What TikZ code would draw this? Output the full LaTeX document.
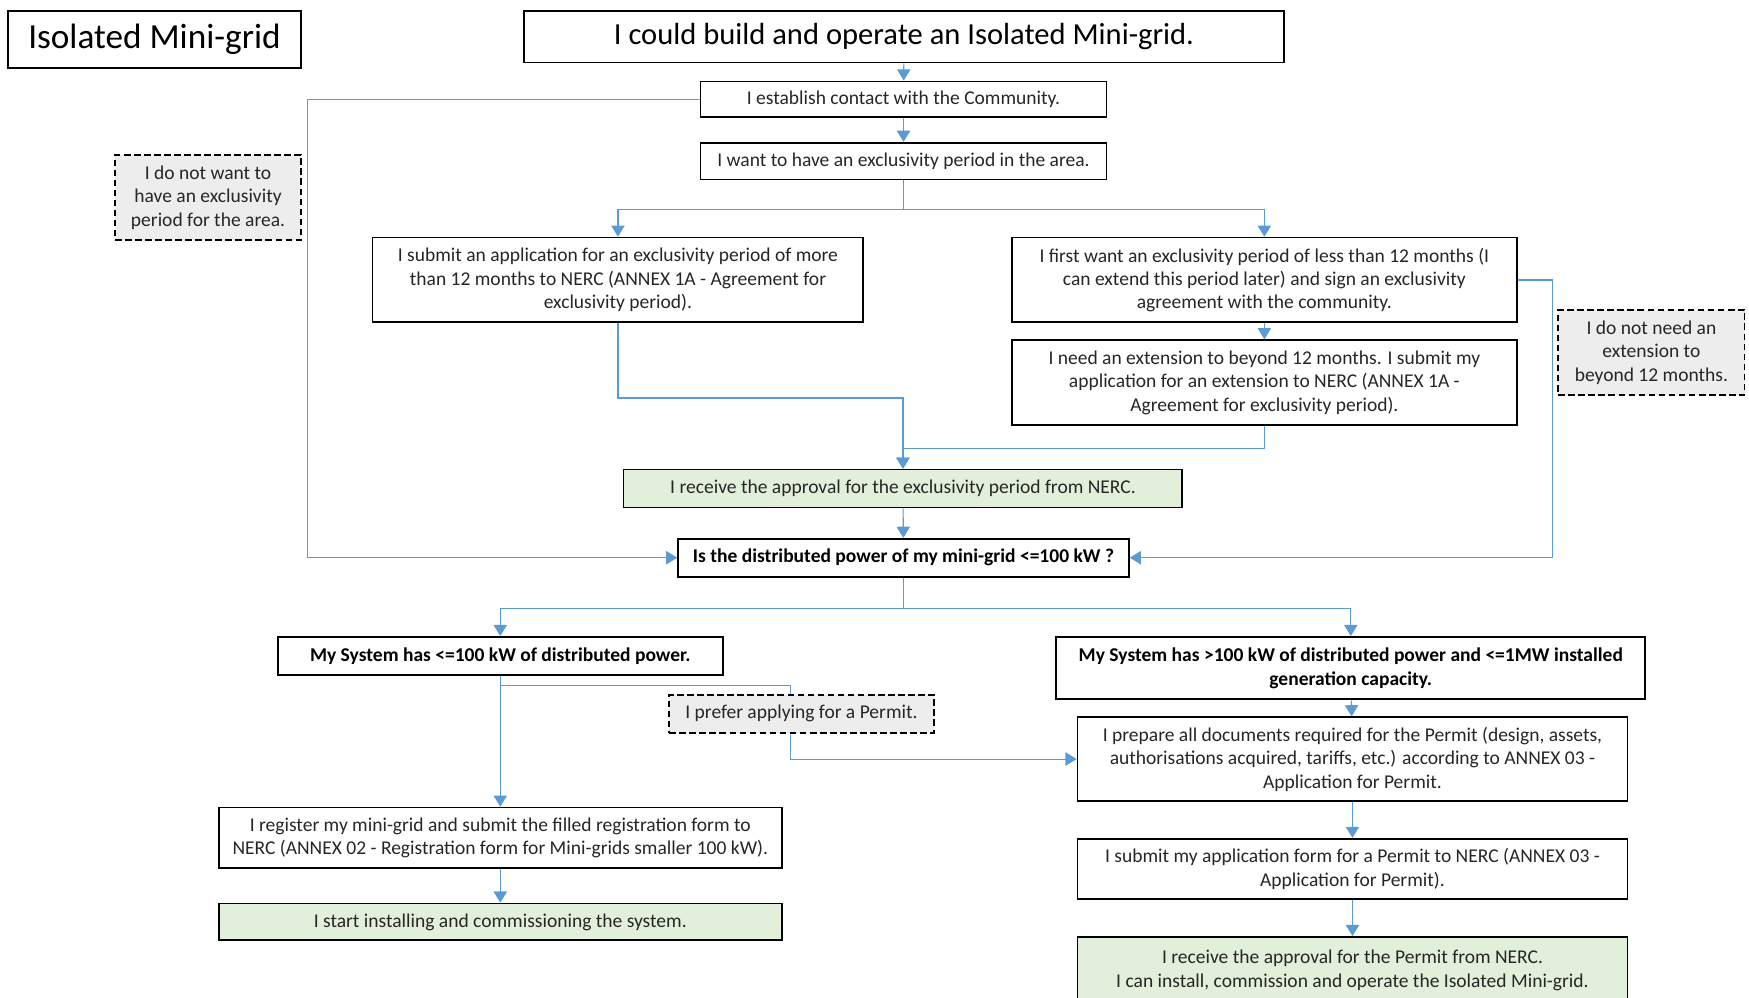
\documentclass[tikz,border=0pt]{standalone}
\usepackage{fontspec}
\setmainfont{Carlito}
\usetikzlibrary{arrows.meta}
\definecolor{flowblue}{HTML}{5B9BD5}
\definecolor{okgreen}{HTML}{E2EFDA}
\definecolor{notegray}{HTML}{EDEDED}
\definecolor{inkgray}{HTML}{262626}
\tikzset{box/.style={draw=black, line width=1.6pt, fill=white, text=inkgray, align=center, inner sep=0pt, font=\fontsize{17.5}{21}\selectfont},
 boldbox/.style={box, text=black, font=\fontsize{17.5}{21}\selectfont\bfseries},
 okbox/.style={box, fill=okgreen},
 notebox/.style={box, fill=notegray, dash pattern=on 6pt off 3pt},
 link/.style={flowblue, line width=1pt},
 flow/.style={link, -{Triangle[width=12pt,length=10pt]}}}

\begin{document}
\begin{tikzpicture}[x=1pt,y=-1pt]
   \useasboundingbox (0,0) rectangle (1568,894);
   \node[box, text=black, minimum width=263pt, minimum height=51pt, font=\fontsize{31.6}{36}\selectfont] (title) at (138.5,35.5) {Isolated Mini-grid};
   \node[box, text=black, minimum width=681pt, minimum height=46pt, font=\fontsize{27.4}{32}\selectfont] (can) at (810.5,33) {I could build and operate an Isolated Mini-grid.};
   \node[box, minimum width=364pt, minimum height=32pt] (contact) at (810,89) {I establish contact with the Community.};
   \node[box, minimum width=364pt, minimum height=33pt] (want) at (810,144.5) {I want to have an exclusivity period in the area.};
   \node[notebox, minimum width=167pt, minimum height=76pt] (nowant) at (186.5,177) {I do not want to\\have an exclusivity\\period for the area.};
   \begin{scope}
    \node[box, minimum width=440pt, minimum height=76pt] (longper) at (554,251) {I submit an application for an exclusivity period of more\\than 12 months to NERC (ANNEX 1A - Agreement for\\exclusivity period).};
    \node[box, minimum width=453pt, minimum height=76pt] (shortper) at (1133.5,251) {I first want an exclusivity period of less than 12 months (I\\can extend this period later) and sign an exclusivity\\agreement with the community.};
    \node[box, minimum width=453pt, minimum height=76pt] (extend) at (1133.5,343) {I need an extension to beyond 12 months. I submit my\\application for an extension to NERC (ANNEX 1A -\\Agreement for exclusivity period).};
    \node[notebox, minimum width=167pt, minimum height=76pt] (noext) at (1480.5,316) {I do not need an\\extension to\\beyond 12 months.};
    \node[okbox, minimum width=501pt, minimum height=34pt] (approval) at (809.5,438) {I receive the approval for the exclusivity period from NERC.};
   \end{scope}
   \node[boldbox, minimum width=404pt, minimum height=34pt] (question) at (810,500) {Is the distributed power of my mini-grid <=100 kW ?};
   \begin{scope}
    \node[boldbox, minimum width=399pt, minimum height=34pt] (small) at (448.5,588) {My System has <=100 kW of distributed power.};
    \node[notebox, minimum width=237pt, minimum height=34pt] (prefer) at (718.5,640) {I prefer applying for a Permit.};
    \node[box, minimum width=505pt, minimum height=54pt] (register) at (448.5,751) {I register my mini-grid and submit the filled registration form to\\NERC (ANNEX 02 - Registration form for Mini-grids smaller 100 kW).};
    \node[okbox, minimum width=505pt, minimum height=33pt] (start) at (448.5,826.5) {I start installing and commissioning the system.};
   \end{scope}
   \begin{scope}
    \node[boldbox, minimum width=528pt, minimum height=56pt] (large) at (1211,599) {My System has >100 kW of distributed power and <=1MW installed\\generation capacity.};
    \node[box, minimum width=493pt, minimum height=75pt] (prepare) at (1212.5,680.5) {I prepare all documents required for the Permit (design, assets,\\authorisations acquired, tariffs, etc.) according to ANNEX 03 -\\Application for Permit.};
    \node[box, minimum width=493pt, minimum height=54pt] (submit) at (1212.5,779) {I submit my application form for a Permit to NERC (ANNEX 03 -\\Application for Permit).};
    \node[okbox, minimum width=493pt, minimum height=60pt] (permit) at (1212.5,870) {I receive the approval for the Permit from NERC.\\I can install, commission and operate the Isolated Mini-grid.};
   \end{scope}
   \coordinate (leftrail) at (276,0);
   \coordinate (rightrail) at (1392,0);
   \draw[flow] (can) -- (contact);
   \draw[flow] (contact) -- (want);
   \draw[flow] (contact.west) -- (contact.west -| leftrail) |- (question.west);
   \draw[flow] (want.south) -- ++(0,26) -| (longper.north);
   \draw[flow] (want.south) -- ++(0,26) -| (shortper.north);
   \draw[flow] (longper.south) -- ++(0,67) -| (approval.north);
   \draw[flow] (shortper) -- (extend);
   \draw[flow] (extend.south) -- ++(0,20) -| (approval.north);
   \draw[flow] (shortper.east) -- (shortper.east -| rightrail) |- (question.east);
   \draw[flow] (approval) -- (question);
   \draw[flow] (question.south) -- ++(0,28) -| (small.north);
   \draw[flow] (question.south) -- ++(0,28) -| (large.north);
   \draw[flow] (small) -- (register);
   \draw[link] (small.south) -- ++(0,9) -| ([xshift=-10pt]prefer.north);
   \draw[flow] ([xshift=-10pt]prefer.south) |- (prepare.west);
   \draw[flow] (register) -- (start);
   \draw[flow] (large) -- (prepare);
   \draw[flow] (prepare) -- (submit);
   \draw[flow] (submit) -- (permit);
\end{tikzpicture}
\end{document}
